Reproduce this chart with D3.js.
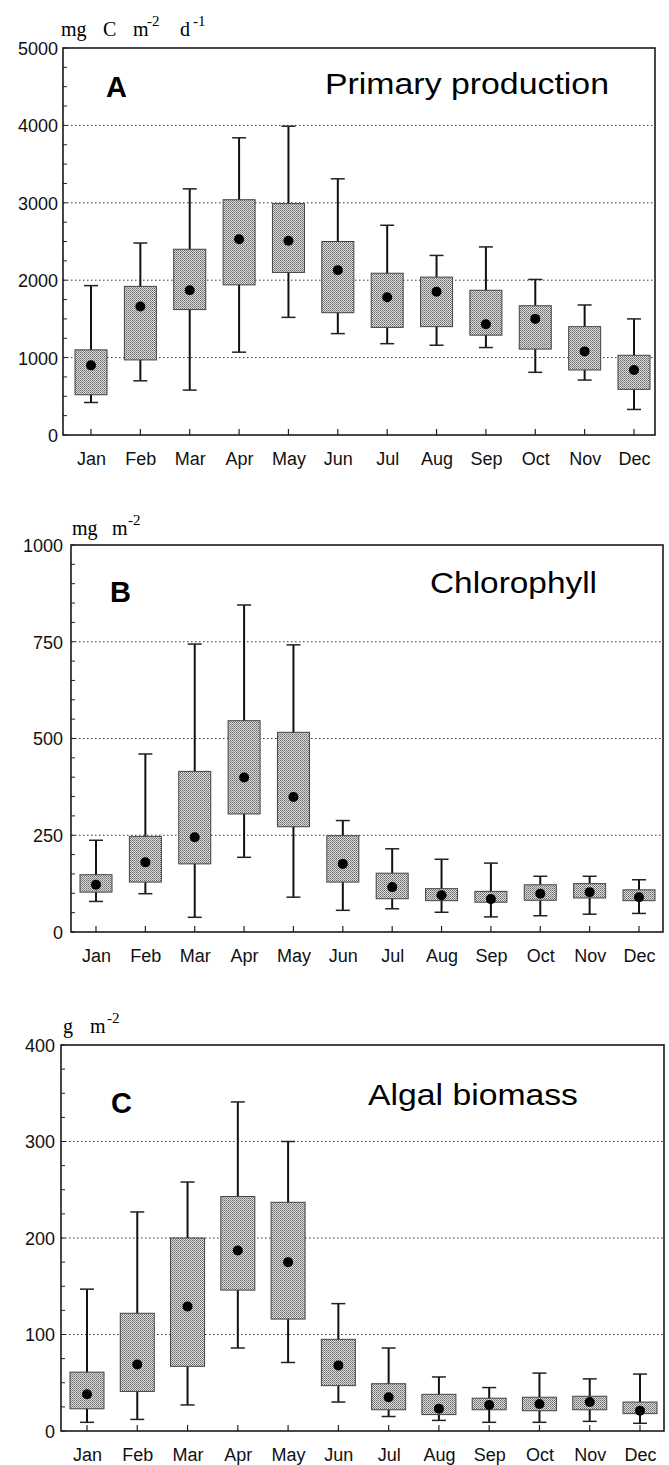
<!DOCTYPE html>
<html>
<head>
<meta charset="utf-8">
<script src="https://cdn.jsdelivr.net/npm/d3@7"></script>
<style>
  html, body { margin: 0; padding: 0; background: #fff; }
  svg { display: block; }
</style>
</head>
<body>
<svg id="chart" width="669" height="1465"></svg>
<script>
// ---------- DATA ----------
const months = ["Jan","Feb","Mar","Apr","May","Jun","Jul","Aug","Sep","Oct","Nov","Dec"];

// A: Primary production (mg C m-2 d-1)
const prodMax = [1930, 2480, 3180, 3840, 3990, 3310, 2710, 2320, 2430, 2010, 1680, 1500];
const prodQ3  = [1100, 1920, 2400, 3040, 2990, 2500, 2090, 2040, 1870, 1670, 1400, 1030];
const prodMed = [900, 1660, 1870, 2530, 2510, 2130, 1780, 1850, 1430, 1500, 1080, 840];
const prodQ1  = [520, 970, 1620, 1940, 2100, 1580, 1390, 1400, 1290, 1110, 840, 590];
const prodMin = [420, 700, 580, 1070, 1520, 1310, 1180, 1160, 1130, 810, 710, 330];
const prodTicks = [0, 1000, 2000, 3000, 4000, 5000];

// B: Chlorophyll (mg m-2)
const chlMax = [237, 460, 744, 845, 742, 288, 215, 188, 178, 144, 144, 135];
const chlQ3  = [148, 247, 415, 546, 516, 249, 152, 112, 105, 122, 125, 109];
const chlMed = [122, 180, 245, 399, 349, 176, 116, 95, 85, 99, 103, 90];
const chlQ1  = [103, 129, 176, 305, 272, 129, 86, 81, 77, 82, 88, 81];
const chlMin = [79, 99, 38, 193, 90, 56, 60, 51, 39, 42, 46, 48];
const chlTicks = [0, 250, 500, 750, 1000];

// C: Algal biomass (g m-2)
const bioMax = [147, 227, 258, 341, 300, 132, 86, 56, 45, 60, 54, 59];
const bioQ3  = [61, 122, 200, 243, 237, 95, 49, 38, 34, 35, 36, 30];
const bioMed = [38, 69, 129, 187, 175, 68, 35, 23, 27, 28, 30, 21];
const bioQ1  = [23, 41, 67, 146, 116, 47, 22, 17, 22, 21, 22, 18];
const bioMin = [9, 12, 27, 86, 71, 30, 15, 11, 9, 9, 10, 8];
const bioTicks = [0, 100, 200, 300, 400];

// ---------- DRAW ----------
const svg = d3.select("#chart");
const SANS = "'Liberation Sans', Arial, sans-serif";
const SERIF = "'Liberation Serif', 'Times New Roman', serif";

// stipple pattern for the boxes
const defs = svg.append("defs");
const pat = defs.append("pattern").attr("id", "stipple")
  .attr("width", 2).attr("height", 2).attr("patternUnits", "userSpaceOnUse");
pat.append("rect").attr("width", 2).attr("height", 2).attr("fill", "#dcdcdc");
pat.append("rect").attr("width", 1).attr("height", 1).attr("fill", "#6a6a6a");
pat.append("rect").attr("x", 1).attr("y", 1).attr("width", 1).attr("height", 1).attr("fill", "#8a8a8a");

function drawPanel(cfg) {
  const x = d3.scalePoint().domain(months).range([cfg.cx0, cfg.cx1]);
  const y = d3.scaleLinear().domain([0, cfg.ymax]).range([cfg.bottom, cfg.top]);
  const g = svg.append("g");

  // gridlines (dotted)
  g.append("g").selectAll("line")
    .data(cfg.ticks.filter(t => t > 0 && t < cfg.ymax))
    .join("line")
    .attr("x1", cfg.left).attr("x2", cfg.right)
    .attr("y1", d => y(d)).attr("y2", d => y(d))
    .attr("stroke", "#333").attr("stroke-width", 1)
    .attr("stroke-dasharray", "1.5,2.5");

  // left axis with labels and minor inward ticks
  const yAxis = d3.axisLeft(y).tickValues(cfg.ticks).tickFormat(d3.format("d"))
    .tickSize(0).tickPadding(cfg.labelPad);
  const ya = g.append("g").attr("transform", `translate(${cfg.left},0)`).call(yAxis);
  ya.select(".domain").remove();
  ya.selectAll("text")
    .attr("font-family", SANS).attr("font-size", 18).attr("fill", "#111")
    .attr("dy", "0.36em");

  const minor = d3.range(0, cfg.ymax + 1e-9, cfg.minorStep);
  g.append("g").selectAll("line").data(minor).join("line")
    .attr("x1", cfg.left).attr("x2", cfg.left + 4)
    .attr("y1", d => y(d)).attr("y2", d => y(d))
    .attr("stroke", "#222").attr("stroke-width", 1);

  // bottom axis: month labels + small upward ticks
  const xAxis = d3.axisBottom(x).tickSize(0).tickPadding(30);
  const xa = g.append("g").attr("transform", `translate(0,${cfg.bottom})`).call(xAxis);
  xa.select(".domain").remove();
  xa.selectAll("text")
    .attr("font-family", SANS).attr("font-size", 18).attr("fill", "#111")
    .attr("dy", "0");
  g.append("g").selectAll("line").data(months).join("line")
    .attr("x1", d => x(d)).attr("x2", d => x(d))
    .attr("y1", cfg.bottom).attr("y2", cfg.bottom - 6)
    .attr("stroke", "#222").attr("stroke-width", 1.2);

  // boxes
  const bw = cfg.boxW;
  const rows = months.map((m, i) => ({
    m, lo: cfg.min[i], q1: cfg.q1[i], med: cfg.med[i], q3: cfg.q3[i], hi: cfg.max[i]
  }));
  const bx = g.append("g").selectAll("g").data(rows).join("g");
  bx.append("line")
    .attr("x1", d => x(d.m)).attr("x2", d => x(d.m))
    .attr("y1", d => y(d.lo)).attr("y2", d => y(d.hi))
    .attr("stroke", "#111").attr("stroke-width", 2);
  bx.append("line")
    .attr("x1", d => x(d.m) - 7).attr("x2", d => x(d.m) + 7)
    .attr("y1", d => y(d.hi)).attr("y2", d => y(d.hi))
    .attr("stroke", "#222").attr("stroke-width", 1.5);
  bx.append("line")
    .attr("x1", d => x(d.m) - 7).attr("x2", d => x(d.m) + 7)
    .attr("y1", d => y(d.lo)).attr("y2", d => y(d.lo))
    .attr("stroke", "#222").attr("stroke-width", 1.5);
  bx.append("rect")
    .attr("x", d => x(d.m) - bw / 2).attr("width", bw)
    .attr("y", d => y(d.q3)).attr("height", d => y(d.q1) - y(d.q3))
    .attr("fill", "url(#stipple)").attr("stroke", "#444").attr("stroke-width", 1);
  bx.append("circle")
    .attr("cx", d => x(d.m)).attr("cy", d => y(d.med)).attr("r", 5)
    .attr("fill", "#000");

  // frame
  g.append("rect")
    .attr("x", cfg.left).attr("y", cfg.top)
    .attr("width", cfg.right - cfg.left).attr("height", cfg.bottom - cfg.top)
    .attr("fill", "none").attr("stroke", "#1a1a1a").attr("stroke-width", 1.6);

  // panel letter and title
  g.append("text").attr("x", cfg.letterX).attr("y", cfg.letterY)
    .attr("font-family", SANS).attr("font-weight", "bold").attr("font-size", 29)
    .attr("fill", "#000").text(cfg.letter);
  g.append("text").attr("x", cfg.titleX).attr("y", cfg.titleY)
    .attr("font-family", SANS).attr("font-size", 30)
    .attr("textLength", cfg.titleW).attr("lengthAdjust", "spacingAndGlyphs")
    .attr("fill", "#000").text(cfg.title);

  // unit label (serif, with superscripts)
  const u = g.append("text").attr("font-family", SERIF).attr("fill", "#000");
  cfg.unit.forEach(p => {
    u.append("tspan")
      .attr("x", p.x).attr("y", p.sup ? cfg.unitY - 10 : cfg.unitY)
      .attr("font-size", p.sup ? 15 : 20)
      .text(p.t);
  });
}

drawPanel({
  left: 63, right: 655, top: 48, bottom: 435, cx0: 91, cx1: 634,
  ymax: 5000, ticks: prodTicks, minorStep: 250, labelPad: 5, boxW: 32,
  min: prodMin, q1: prodQ1, med: prodMed, q3: prodQ3, max: prodMax,
  letter: "A", letterX: 106, letterY: 97,
  title: "Primary production", titleX: 325, titleY: 94, titleW: 284,
  unitY: 36,
  unit: [{t:"mg", x:61}, {t:"C", x:103}, {t:"m", x:133}, {t:"-2", x:147, sup:true},
         {t:"d", x:180}, {t:"-1", x:193, sup:true}]
});

drawPanel({
  left: 71, right: 663, top: 545, bottom: 932, cx0: 96, cx1: 639,
  ymax: 1000, ticks: chlTicks, minorStep: 50, labelPad: 8, boxW: 32,
  min: chlMin, q1: chlQ1, med: chlMed, q3: chlQ3, max: chlMax,
  letter: "B", letterX: 110, letterY: 602,
  title: "Chlorophyll", titleX: 430, titleY: 593, titleW: 167,
  unitY: 535,
  unit: [{t:"mg", x:72}, {t:"m", x:112}, {t:"-2", x:128, sup:true}]
});

drawPanel({
  left: 61, right: 664, top: 1045, bottom: 1431, cx0: 87, cx1: 640,
  ymax: 400, ticks: bioTicks, minorStep: 25, labelPad: 6, boxW: 34,
  min: bioMin, q1: bioQ1, med: bioMed, q3: bioQ3, max: bioMax,
  letter: "C", letterX: 111, letterY: 1113,
  title: "Algal biomass", titleX: 368, titleY: 1105, titleW: 210,
  unitY: 1033,
  unit: [{t:"g", x:63}, {t:"m", x:90}, {t:"-2", x:107, sup:true}]
});
</script>
</body>
</html>
